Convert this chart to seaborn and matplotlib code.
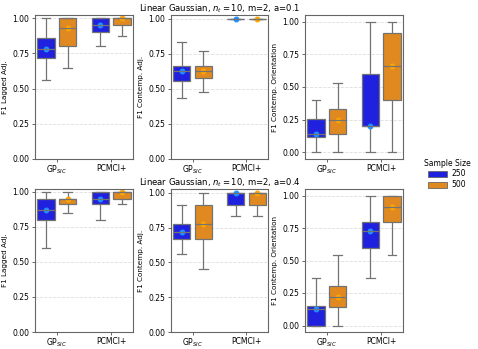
import numpy as np
import pandas as pd
import matplotlib
matplotlib.use("Agg")
import matplotlib.pyplot as plt
import seaborn as sns
from matplotlib.patches import Patch

methods = ["GP$_{SIC}$", "PCMCI+"]
sizes = ["250", "500"]
metrics = ["F1 Lagged Adj.", "F1 Contemp. Adj.", "F1 Contemp. Orientation"]
a_values = ["0.1", "0.4"]

# five-number summaries [min, q1, median, q3, max]
# order: GP-250, GP-500, PCMCI-250, PCMCI-500
a01_lagged = [[0.56, 0.714, 0.78, 0.857, 1.0],
              [0.645, 0.80, 0.93, 1.0, 1.0],
              [0.80, 0.90, 0.948, 1.0, 1.0],
              [0.87, 0.95, 1.0, 1.0, 1.0]]
a01_contemp = [[0.438, 0.56, 0.625, 0.667, 0.833],
               [0.48, 0.58, 0.625, 0.667, 0.77],
               [1.0, 1.0, 1.0, 1.0, 1.0],
               [1.0, 1.0, 1.0, 1.0, 1.0]]
a01_orient = [[0.0, 0.115, 0.141, 0.254, 0.403],
              [0.0, 0.141, 0.249, 0.333, 0.533],
              [0.0, 0.20, 0.20, 0.60, 1.0],
              [0.0, 0.40, 0.662, 0.91, 1.0]]
a04_lagged = [[0.60, 0.80, 0.867, 0.95, 1.0],
              [0.85, 0.91, 0.95, 0.95, 1.0],
              [0.80, 0.91, 0.95, 1.0, 1.0],
              [0.91, 0.95, 1.0, 1.0, 1.0]]
a04_contemp = [[0.558, 0.667, 0.716, 0.773, 0.912],
               [0.456, 0.667, 0.773, 0.912, 1.0],
               [0.833, 0.91, 1.0, 1.0, 1.0],
               [0.833, 0.91, 1.0, 1.0, 1.0]]
a04_orient = [[0.0, 0.0, 0.125, 0.153, 0.363],
              [0.0, 0.143, 0.222, 0.307, 0.545],
              [0.363, 0.60, 0.726, 0.80, 1.0],
              [0.545, 0.80, 0.908, 1.0, 1.0]]

panels = [[a01_lagged, a01_contemp, a01_orient],
          [a04_lagged, a04_contemp, a04_orient]]

box_palette = {"250": "blue", "500": "darkorange"}
marker_palette = {"250": "dodgerblue", "500": "orange"}

W, H = 478, 349
fig = plt.figure(figsize=(W / 100, H / 100), dpi=100)

col_px = [(35, 133), (171, 268), (305, 403)]
row_px = [(15, 159), (189, 332)]


def make_df(summ):
    rows = []
    k = 0
    for m in methods:
        for s in sizes:
            for v in summ[k]:
                rows.append({"method": m, "size": s, "value": v})
            k += 1
    return pd.DataFrame(rows)


for r in range(2):
    for c in range(3):
        x0, x1 = col_px[c]
        y0, y1 = row_px[r]
        ax = fig.add_axes([x0 / W, 1 - y1 / H, (x1 - x0) / W, (y1 - y0) / H])
        df = make_df(panels[r][c])
        sns.boxplot(data=df, x="method", y="value", hue="size", order=methods,
                    hue_order=sizes, palette=box_palette, whis=(0, 100),
                    width=0.8, gap=0.2, linewidth=0.9, linecolor="0.45",
                    legend=False, ax=ax)
        sns.pointplot(data=df, x="method", y="value", hue="size", order=methods,
                      hue_order=sizes, palette=marker_palette, estimator="median",
                      errorbar=None, dodge=0.4, linestyle="none", markers="*",
                      markersize=3.5, legend=False, ax=ax)
        ax.set_xlim(-0.4, 1.4)
        if c < 2:
            lo = min(min(s) for s in panels[r][c])
            hi = max(max(s) for s in panels[r][c])
            ax.set_ylim(0, hi + 0.05 * (hi - lo))
        else:
            ax.set_ylim(-0.05, 1.05)
        ax.set_yticks([0, 0.25, 0.5, 0.75, 1.0])
        ax.set_yticklabels(["0.00", "0.25", "0.50", "0.75", "1.00"])
        ax.set_xlabel("")
        ax.set_ylabel(metrics[c], fontsize=5.2, labelpad=3)
        ax.tick_params(labelsize=5.5, length=2.5, width=0.6, pad=1.5, color="0.3")
        ax.tick_params(axis="x", pad=1)
        ax.yaxis.grid(True, linestyle="--", color="0.87", linewidth=0.6)
        ax.set_axisbelow(True)
        for sp in ax.spines.values():
            sp.set_color("0.4")
            sp.set_linewidth(0.8)
        if c == 1:
            ax.set_title("Linear Gaussian, $n_t = 10$, m=2, a=" + a_values[r],
                         fontsize=6.1, pad=2.5)

handles = [Patch(facecolor=sns.desaturate(box_palette[s], 0.75), edgecolor="0.4",
                 linewidth=0.6, label=s) for s in sizes]
fig.legend(handles=handles, title="Sample Size", loc="center",
           bbox_to_anchor=(447 / W, 1 - 174 / H), frameon=False, fontsize=5.5,
           title_fontsize=5.5, handlelength=2.4, handleheight=0.9,
           labelspacing=0.25, handletextpad=0.6, borderpad=0.2)

fig.savefig("out.png", dpi=100)
